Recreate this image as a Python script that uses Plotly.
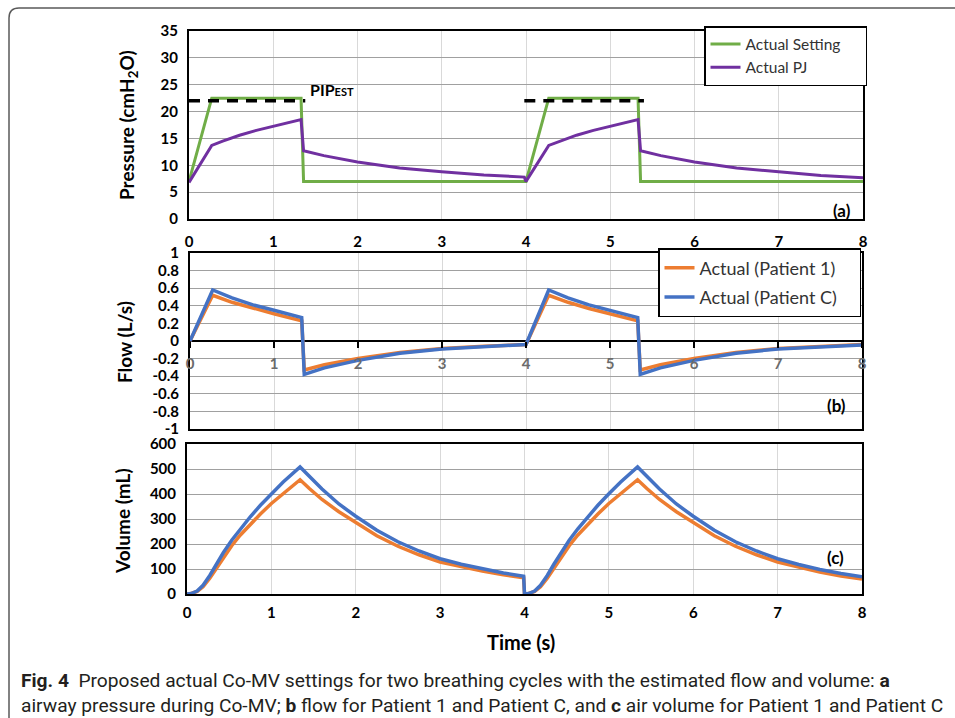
import plotly.graph_objects as go

W, H = 955, 718


def px(x):
    return x / W


def py(y):
    return 1 - y / H


# ---------------- DATA ----------------
# (a) pressure
t_setting = [0, 0.27, 1.33, 1.36, 4.0, 4.27, 5.33, 5.36, 8.0]
p_setting = [7, 22.5, 22.5, 7, 7, 22.5, 22.5, 7, 7]

t_pj = [0, 0.27, 0.4, 0.6, 0.8, 1.0, 1.2, 1.33, 1.36, 1.6, 2.0, 2.5, 3.0, 3.5, 3.98,
        4.0, 4.27, 4.4, 4.6, 4.8, 5.0, 5.2, 5.33, 5.36, 5.6, 6.0, 6.5, 7.0, 7.5, 8.0]
p_pj = [6.8, 13.7, 14.5, 15.6, 16.5, 17.3, 18.0, 18.5, 12.7, 11.8, 10.6, 9.5, 8.8, 8.2, 7.8,
        7.0, 13.7, 14.5, 15.6, 16.5, 17.3, 18.0, 18.5, 12.7, 11.8, 10.6, 9.5, 8.8, 8.1, 7.7]

t_pip = [0, 1.38, None, 3.98, 5.40]
p_pip = [22, 22, None, 22, 22]
pip_label = "PIP<span style='font-size:11px'>EST</span>"

# (b) flow
t_flow = [0, 0.27, 0.5, 0.75, 1.0, 1.33, 1.36, 1.6, 2.0, 2.5, 3.0, 3.5, 3.98,
          4.0, 4.27, 4.5, 4.75, 5.0, 5.33, 5.36, 5.6, 6.0, 6.5, 7.0, 7.5, 8.0]
flow_p1 = [0, 0.52, 0.44, 0.37, 0.31, 0.23, -0.33, -0.27, -0.20, -0.13, -0.085, -0.06, -0.04,
           -0.04, 0.52, 0.44, 0.37, 0.31, 0.23, -0.33, -0.27, -0.20, -0.13, -0.085, -0.06, -0.04]
flow_pc = [0, 0.58, 0.49, 0.41, 0.35, 0.265, -0.38, -0.305, -0.22, -0.14, -0.09, -0.063, -0.04,
           -0.04, 0.58, 0.49, 0.41, 0.35, 0.265, -0.38, -0.305, -0.22, -0.14, -0.09, -0.065, -0.045]

# (c) volume
t_vol = [0, 0.05, 0.12, 0.19, 0.27, 0.35, 0.43, 0.53, 0.63, 0.75, 0.87, 1.0, 1.14, 1.34,
         1.45, 1.6, 1.8, 2.0, 2.25, 2.5, 2.75, 3.0, 3.25, 3.5, 3.75, 3.99,
         4.0, 4.05, 4.12, 4.19, 4.27, 4.35, 4.43, 4.53, 4.63, 4.75, 4.87, 5.0, 5.14, 5.34,
         5.45, 5.6, 5.8, 6.0, 6.25, 6.5, 6.75, 7.0, 7.25, 7.5, 7.75, 8.0]
vol_p1 = [0, 2, 10, 29, 63, 104, 145, 193, 235, 279, 320, 362, 403, 457,
          422, 378, 329, 285, 233, 191, 157, 128, 109, 92, 77, 65,
          0, 2, 10, 29, 63, 104, 145, 193, 235, 279, 320, 362, 403, 457,
          422, 378, 329, 285, 233, 191, 157, 128, 107, 88, 72, 60]
vol_pc = [0, 2, 12, 35, 74, 120, 165, 215, 260, 309, 355, 401, 448, 508,
          469, 420, 360, 311, 255, 209, 172, 141, 119, 100, 84, 71,
          0, 2, 12, 35, 74, 120, 165, 215, 260, 309, 355, 401, 448, 508,
          469, 420, 360, 311, 255, 209, 172, 141, 118, 98, 82, 69]

time_ticks = [0, 1, 2, 3, 4, 5, 6, 7, 8]
time_ticktext = ["0", "1", "2", "3", "4", "5", "6", "7", "8"]
p_ticks = [0, 5, 10, 15, 20, 25, 30, 35]
p_ticktext = ["0", "5", "10", "15", "20", "25", "30", "35"]
f_ticks = [-1, -0.8, -0.6, -0.4, -0.2, 0, 0.2, 0.4, 0.6, 0.8, 1]
f_ticktext = ["-1", "-0.8", "-0.6", "-0.4", "-0.2", "0", "0.2", "0.4", "0.6", "0.8", "1"]
v_ticks = [0, 100, 200, 300, 400, 500, 600]
v_ticktext = ["0", "100", "200", "300", "400", "500", "600"]

# ---------------- STYLE ----------------
FONT = "Lato, 'Open Sans', sans-serif"
CAPFONT = "Roboto, 'Open Sans', sans-serif"
GREEN, PURPLE, ORANGE, BLUE = "#70ad47", "#7030a0", "#ed7d31", "#4472c4"
HGRID, VGRID = "#a0a0a0", "#d9d9d9"
tickfont = dict(family=FONT, size=15, color="black", weight="bold")
PAD_A = "\u00a0" * 5   # widen legend boxes to the plot edge
PAD_B = "\u00a0" * 4

fig = go.Figure()

fig.add_trace(go.Scatter(x=t_setting, y=p_setting, mode="lines", name="Actual Setting" + PAD_A,
                         line=dict(color=GREEN, width=3), xaxis="x", yaxis="y",
                         legend="legend"))
fig.add_trace(go.Scatter(x=t_pj, y=p_pj, mode="lines", name="Actual PJ",
                         line=dict(color=PURPLE, width=3), xaxis="x", yaxis="y",
                         legend="legend"))
fig.add_trace(go.Scatter(x=t_pip, y=p_pip, mode="lines", showlegend=False,
                         line=dict(color="black", width=3.5, dash="11px,8px"),
                         xaxis="x", yaxis="y"))

fig.add_trace(go.Scatter(x=t_flow, y=flow_p1, mode="lines", name="Actual (Patient 1)" + PAD_B,
                         line=dict(color=ORANGE, width=3.5), xaxis="x2", yaxis="y2",
                         legend="legend2", legendgroup="g1"))
fig.add_trace(go.Scatter(x=t_flow, y=flow_pc, mode="lines", name="Actual (Patient C)",
                         line=dict(color=BLUE, width=3.5), xaxis="x4", yaxis="y2",
                         legend="legend2", legendgroup="g2"))

fig.add_trace(go.Scatter(x=t_vol, y=vol_p1, mode="lines", showlegend=False,
                         line=dict(color=ORANGE, width=3.5), xaxis="x3", yaxis="y3"))
fig.add_trace(go.Scatter(x=t_vol, y=vol_pc, mode="lines", showlegend=False,
                         line=dict(color=BLUE, width=3.5), xaxis="x3", yaxis="y3"))

frame = dict(showline=True, linecolor="black", linewidth=2, mirror=True, ticks="",
             zeroline=False, automargin=False)

xcommon = dict(range=[0, 8], tickvals=time_ticks, ticktext=time_ticktext,
               showgrid=True, gridcolor=VGRID, gridwidth=1, tickfont=tickfont, **frame)

fig.update_layout(
    width=W, height=H,
    margin=dict(l=0, r=0, t=0, b=0, pad=0, autoexpand=False),
    paper_bgcolor="white", plot_bgcolor="white",
    xaxis=dict(domain=[px(189), px(863)], anchor="y", ticklabelstandoff=8, **xcommon),
    yaxis=dict(domain=[py(219), py(31)], anchor="x", range=[0, 35], tickvals=p_ticks,
               ticktext=p_ticktext, showgrid=True, gridcolor=HGRID, gridwidth=1,
               tickfont=tickfont, ticklabelstandoff=6, **frame),
    xaxis2=dict(domain=[px(190), px(862)], anchor="y2", showticklabels=False, **xcommon),
    yaxis2=dict(domain=[py(429), py(253)], anchor="x2", range=[-1, 1], tickvals=f_ticks,
                ticktext=f_ticktext, showgrid=True, gridcolor=HGRID, gridwidth=1,
                tickfont=tickfont, ticklabelstandoff=6, automargin=False,
                showline=True, linecolor="black", linewidth=2, mirror=True, ticks="",
                zeroline=True, zerolinecolor="black", zerolinewidth=2),
    xaxis4=dict(overlaying="x2", anchor="free", position=py(341), range=[0, 8],
                tickvals=time_ticks, ticktext=time_ticktext, showgrid=False,
                showline=False, zeroline=False, ticks="outside", ticklen=6,
                tickcolor="black", tickwidth=1.5, ticklabelstandoff=3, automargin=False,
                tickfont=dict(family=FONT, size=15, color="#6b6b6b", weight="bold")),
    xaxis3=dict(domain=[px(187), px(862)], anchor="y3", ticklabelstandoff=4, **xcommon),
    yaxis3=dict(domain=[py(594), py(444)], anchor="x3", range=[0, 600], tickvals=v_ticks,
                ticktext=v_ticktext, showgrid=True, gridcolor=HGRID, gridwidth=1,
                tickfont=tickfont, ticklabelstandoff=6, **frame),
    legend=dict(x=px(704), y=py(26), xanchor="left", yanchor="top", bgcolor="white",
                bordercolor="black", borderwidth=1.5,
                font=dict(family=FONT, size=15.5, color="#333333"),
                itemwidth=30, tracegroupgap=0),
    legend2=dict(x=px(658), y=py(248), xanchor="left", yanchor="top", bgcolor="white",
                 bordercolor="black", borderwidth=1.5,
                 font=dict(family=FONT, size=18, color="#333333"),
                 itemwidth=30, tracegroupgap=3),
    showlegend=True,
)

ann_title = dict(family=FONT, size=19, color="black", weight="bold")
annotations = [
    dict(text="Pressure (cmH<sub>2</sub>O)", x=px(128), y=py(125), textangle=-90, font=ann_title),
    dict(text="Flow (L/s)", x=px(124), y=py(342), textangle=-90, font=ann_title),
    dict(text="Volume (mL)", x=px(122), y=py(521), textangle=-90, font=ann_title),
    dict(text="Time (s)", x=px(521), y=py(642), font=dict(family=FONT, size=20, color="black", weight="bold")),
    dict(text=pip_label, x=px(308), y=py(89), xanchor="left",
         font=dict(family=FONT, size=16, color="black", weight="bold")),
    dict(text="(a)", x=px(853), y=py(210), xanchor="right",
         font=dict(family=FONT, size=17, color="black", weight="bold")),
    dict(text="(b)", x=px(848), y=py(405), xanchor="right",
         font=dict(family=FONT, size=17, color="black", weight="bold")),
    dict(text="(c)", x=px(846), y=py(557), xanchor="right",
         font=dict(family=FONT, size=17, color="black", weight="bold")),
    dict(text="<b>Fig. 4</b>  Proposed actual Co-MV settings for two breathing cycles with the estimated flow and volume: <b>a</b>",
         x=px(19), y=py(680), xanchor="left",
         font=dict(family=CAPFONT, size=19.2, color="#231f20")),
    dict(text="airway pressure during Co-MV; <b>b</b> flow for Patient 1 and Patient C, and <b>c</b> air volume for Patient 1 and Patient C",
         x=px(19), y=py(705), xanchor="left",
         font=dict(family=CAPFONT, size=19.2, color="#231f20")),
]
for a in annotations:
    a.setdefault("xanchor", "center")
    a.update(xref="paper", yref="paper", yanchor="middle", showarrow=False)
fig.update_layout(annotations=annotations)

# figure border (rounded top-left corner)
x0, y0, r = 9, 8, 10
path = (f"M {px(x0)},{py(H + 5)} L {px(x0)},{py(y0 + r)} "
        f"Q {px(x0)},{py(y0)} {px(x0 + r)},{py(y0)} L {px(W + 5)},{py(y0)}")
fig.add_shape(type="path", path=path, xref="paper", yref="paper",
              line=dict(color="#5a5a5a", width=1.5))

fig.write_html("out.html")
